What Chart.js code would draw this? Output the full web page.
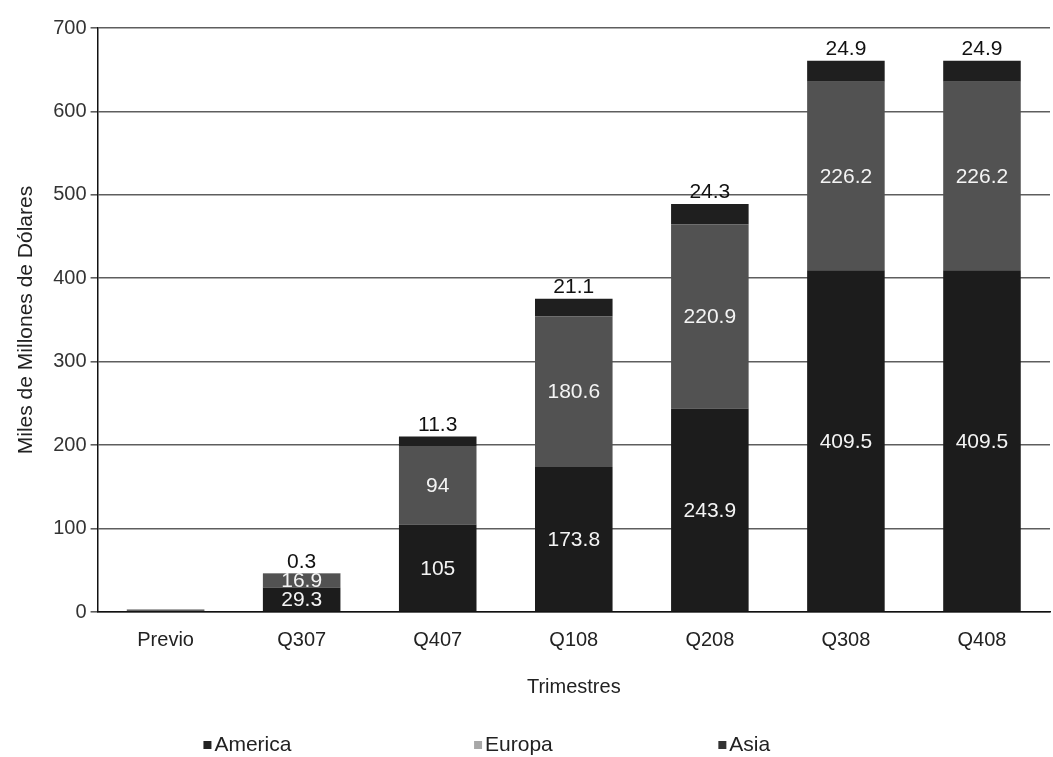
<!DOCTYPE html>
<html>
<head>
<meta charset="utf-8">
<script src="https://cdn.jsdelivr.net/npm/chart.js@4.4.0/dist/chart.umd.min.js"></script>
<style>
  html, body { margin: 0; padding: 0; background: #fff; }
  #wrap { width: 1053px; height: 757px; }
</style>
</head>
<body>
<div id="wrap"><canvas id="chart"></canvas></div>
<script>
const trimestres = ['Previo', 'Q307', 'Q407', 'Q108', 'Q208', 'Q308', 'Q408'];
const america = [1.5, 29.3, 105, 173.8, 243.9, 409.5, 409.5];
const europa = [1.2, 16.9, 94, 180.6, 220.9, 226.2, 226.2];
const asia = [0.2, 0.3, 11.3, 21.1, 24.3, 24.9, 24.9];
const yTicks = [0, 100, 200, 300, 400, 500, 600, 700];

const FONT = "'Liberation Sans', Arial, sans-serif";
Chart.defaults.font.family = FONT;
Chart.defaults.font.size = 20;
Chart.defaults.color = '#222';

// values in white inside America / Europa, Asia in black above the stack
const valueLabels = {
  id: 'valueLabels',
  afterDatasetsDraw(chart) {
    const ctx = chart.ctx;
    ctx.save();
    ctx.font = '21px ' + FONT;
    ctx.textAlign = 'center';
    chart.data.datasets.forEach((ds, di) => {
      const meta = chart.getDatasetMeta(di);
      meta.data.forEach((bar, i) => {
        if (i === 0) return; // Previo has no labels
        const v = ds.data[i];
        if (di < 2) {
          ctx.fillStyle = '#f4f4f4';
          ctx.textBaseline = 'middle';
          ctx.fillText(String(v), bar.x, (bar.y + bar.base) / 2 + 1);
        } else {
          ctx.fillStyle = '#111';
          ctx.textBaseline = 'bottom';
          ctx.fillText(String(v), bar.x, bar.y - 1);
        }
      });
    });
    ctx.restore();
  }
};

// legend spread out under the axis title
const wideLegend = {
  id: 'wideLegend',
  afterDraw(chart) {
    const ctx = chart.ctx;
    const fills = ['#222', '#a8a8a8', '#333'];
    const xs = [0.197, 0.454, 0.686];
    const y = chart.height - 12;
    ctx.save();
    ctx.font = '21px ' + FONT;
    ctx.textBaseline = 'middle';
    ctx.textAlign = 'left';
    chart.data.datasets.forEach((ds, i) => {
      const x = chart.width * xs[i];
      ctx.fillStyle = fills[i];
      ctx.fillRect(x - 4, y - 4, 8, 8);
      ctx.fillStyle = '#222';
      ctx.fillText(ds.label, x + 7, y);
    });
    ctx.restore();
  }
};

new Chart(document.getElementById('chart'), {
  type: 'bar',
  data: {
    labels: trimestres,
    datasets: [
      { label: 'America', data: america, backgroundColor: '#1c1c1c' },
      { label: 'Europa', data: europa, backgroundColor: '#525252' },
      { label: 'Asia', data: asia, backgroundColor: '#1f1f1f' }
    ]
  },
  options: {
    responsive: true,
    maintainAspectRatio: false,
    animation: false,
    datasets: {
      bar: { barPercentage: 0.57, categoryPercentage: 1 }
    },
    layout: { padding: { top: 28, right: 3, left: 10, bottom: 40 } },
    plugins: {
      tooltip: { enabled: false },
      legend: { display: false }
    },
    scales: {
      x: {
        stacked: true,
        grid: { display: false, drawTicks: false },
        border: { color: '#111', width: 1.5 },
        ticks: { padding: 16, color: '#222' },
        title: { display: true, text: 'Trimestres', color: '#222', padding: { top: 7, bottom: 18 } }
      },
      y: {
        stacked: true,
        min: 0,
        max: 700,
        afterBuildTicks(axis) {
          axis.ticks = yTicks.map(v => ({ value: v }));
        },
        grid: { color: '#5e5e5e', lineWidth: 1.6, tickLength: 7 },
        border: { color: '#111', width: 1.5 },
        ticks: { padding: 4, color: '#333' },
        title: { display: true, text: 'Miles de Millones de Dólares', color: '#222', font: { size: 21 }, padding: { bottom: 10 } }
      }
    }
  },
  plugins: [valueLabels, wideLegend]
});
</script>
</body>
</html>
